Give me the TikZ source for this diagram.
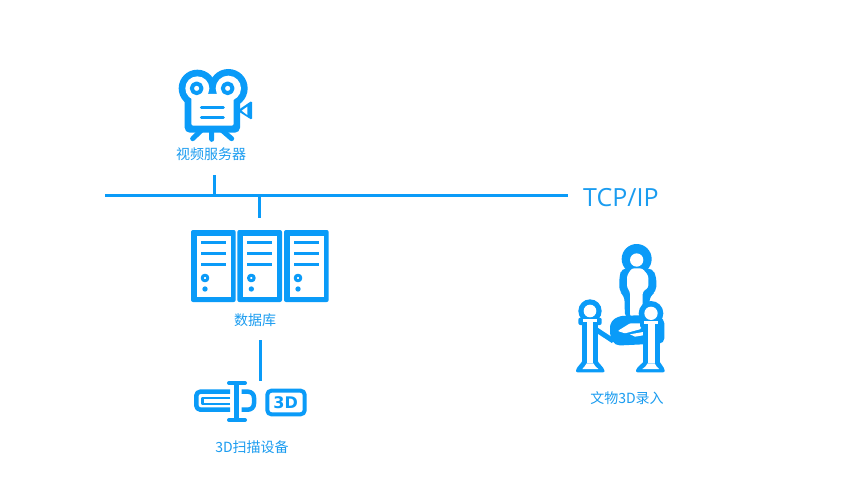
\documentclass[tikz,border=0pt]{standalone}
\usepackage{fontspec}
\setmainfont{Noto Sans CJK SC}
\newfontfamily\latinfont{Open Sans}
\newfontfamily\boldfont{DejaVu Sans Bold}
\definecolor{ico}{HTML}{0A9BF8}
\definecolor{txt}{HTML}{1A9CF0}
\tikzset{
  lbl/.style={text=txt,font=\fontsize{14}{16}\selectfont,inner sep=0pt},
  link/.style={draw=ico,line width=3pt},
  bl/.style={fill=ico,draw=none},
  wh/.style={fill=white,draw=none},
  st/.style={draw=ico,line cap=round,line join=round}
}
\begin{document}
\begin{tikzpicture}[x=1pt,y=-1pt]
\useasboundingbox[fill=white] (0,0) rectangle (850,500);
% labels
\node[lbl] (cam) at (211,154) {视频服务器};
\node[lbl] (db) at (255,320) {数据库};
\node[lbl] (scan) at (252,447) {3D扫描设备};
\node[lbl] (rec) at (627,398) {文物3D录入};
\node[text=txt,font=\latinfont\fontsize{25}{28}\selectfont,inner sep=0pt,anchor=west] (tcp) at (583,198) {TCP/IP};
% connectors
\coordinate (busL) at (105,195);
\coordinate (busR) at (568,195);
\coordinate (busA) at (214,195);
\coordinate (busB) at (259,195);
\coordinate (camB) at (214,175);
\coordinate (srvT) at (259,218);
\coordinate (dbB) at (260,340);
\coordinate (scT) at (260,381);
\draw[link] (busL) -- (busR);
\draw[link] (camB) -- (busA);
\draw[link] (busB) -- (srvT);
\draw[link] (dbB) -- (scT);
% camera
\begin{scope}[shift={(160,60)},scale=1/3]
  \draw[st,line width=5pt] (155,210) -- (155,238) (125,210) -- (98,236) (185,210) -- (215,236);
  \fill[bl,rounded corners=1.5pt] (276,122) -- (276,180) -- (232,152) -- cycle;
  \fill[wh] (262,140) -- (262,165) -- (245,152) -- cycle;
  \fill[bl] (112,85) circle (56);
  \fill[bl] (205,85) circle (58);
  \fill[bl,rounded corners=5pt] (74,95) rectangle (240,218);
  \fill[wh] (112,85) circle (36);
  \fill[wh] (205,85) circle (38);
  \fill[wh,rounded corners=2pt] (94,102) rectangle (221,197);
  \draw[st,line width=4pt] (110,85) circle (14.5);
  \draw[st,line width=4pt] (203,85) circle (14.5);
  \draw[st,line width=3pt] (124,142) -- (190,142) (124,172) -- (190,172);
\end{scope}
% servers
\foreach \bx in {33,172,312}{
\begin{scope}[shift={(180,220)},scale=1/3,xshift=\bx pt]
  \fill[bl,rounded corners=2pt] (0,30) rectangle (134,246);
  \fill[wh] (18,48) rectangle (120,230);
  \draw[st,line width=3pt,line cap=butt] (30,67) -- (105,67) (30,100) -- (105,100) (30,133) -- (105,133);
  \draw[st,line width=3pt] (42,174) circle (8.5);
  \fill[bl] (42,207) circle (8);
\end{scope}}
% scanner
\begin{scope}[shift={(185,370)},scale=1/3]
  \draw[st,line width=4.5pt,rounded corners=4pt,line cap=butt] (135,65) -- (34,65) -- (34,119) -- (135,119);
  \draw[st,line width=2.5pt,line cap=butt] (135,84) -- (52,84) -- (52,102) -- (135,102);
  \draw[st,line width=4.5pt,rounded corners=6pt,line cap=butt] (170,65) -- (207,65) -- (207,119) -- (170,119);
  \draw[st,line width=5.5pt,line cap=butt] (155,38) -- (155,150);
  \draw[st,line width=4pt] (132,39) -- (180,39) (132,150) -- (180,150);
  \draw[st,line width=4pt,rounded corners=4pt] (247,62) rectangle (359,133);
  \node[text=ico,font=\boldfont\fontsize{16}{18}\selectfont,inner sep=0pt] (threed) at (302,97) {3D};
\end{scope}
% visitor
\begin{scope}[shift={(565,235)},scale=1/3]
  % big person
  \fill[bl] (215,72) circle (45);
  \fill[bl,rounded corners=5pt] (170,100) -- (262,100) -- (274,125) -- (274,170) -- (255,182) -- (250,250) -- (180,250) -- (178,182) -- (163,170) -- (163,125) -- cycle;
  \fill[wh] (215,75) circle (20);
  \fill[wh,rounded corners=2.5pt] (200,100) -- (232,100) -- (250,122) -- (250,158) -- (233,170) -- (233,245) -- (195,245) -- (195,170) -- (186,158) -- (186,122) -- cycle;
  % case
  \fill[bl,rounded corners=5pt] (135,262) -- (160,243) -- (250,240) -- (298,250) -- (298,325) -- (150,332) -- (135,305) -- cycle;
  \draw[st,line width=5pt,line cap=butt] (95,285) -- (145,318);
  \fill[wh,rounded corners=1pt] (158,288) -- (195,265) -- (228,265) -- (228,282) -- (180,295) -- cycle;
  \fill[wh] (195,298) -- (240,290) -- (240,300) -- (210,305) -- cycle;
  % left post
  \fill[bl] (75,228) circle (35);
  \fill[bl,rounded corners=2pt] (40,248) rectangle (110,270);
  \fill[bl] (50,255) rectangle (100,390);
  \fill[bl,rounded corners=2pt] (32,412) .. controls (35,395) and (50,385) .. (55,370) -- (95,370) .. controls (100,385) and (115,395) .. (120,412) -- cycle;
  \fill[wh] (75,228) circle (19);
  \fill[wh] (55,252) rectangle (95,260);
  \fill[wh] (65,255) rectangle (85,385);
  \fill[wh] (65,385) .. controls (62,392) and (55,398) .. (52,402) -- (100,402) .. controls (95,398) and (88,392) .. (85,385) -- cycle;
  % right post
  \fill[bl] (258,235) circle (37);
  \fill[bl,rounded corners=2pt] (225,258) rectangle (295,278);
  \fill[bl] (235,265) rectangle (285,390);
  \fill[bl,rounded corners=2pt] (212,412) .. controls (215,395) and (235,385) .. (240,370) -- (280,370) .. controls (285,385) and (297,395) .. (300,412) -- cycle;
  \fill[wh] (258,235) circle (20);
  \fill[wh] (238,258) rectangle (278,266);
  \fill[wh] (248,260) rectangle (269,385);
  \fill[wh] (248,385) .. controls (245,392) and (238,398) .. (232,402) -- (282,402) .. controls (277,398) and (272,392) .. (269,385) -- cycle;
\end{scope}
\end{tikzpicture}
\end{document}
